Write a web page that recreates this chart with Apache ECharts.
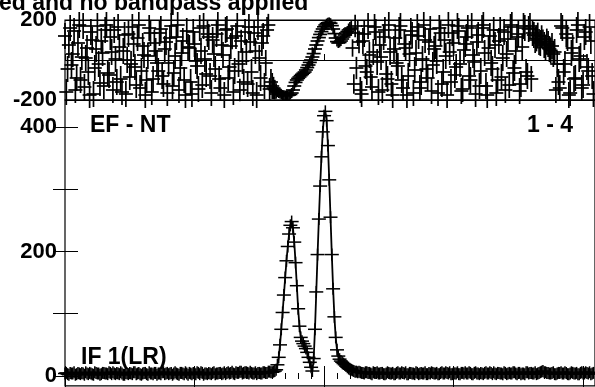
<!DOCTYPE html>
<html><head><meta charset="utf-8">
<script src="https://cdn.jsdelivr.net/npm/echarts@6/dist/echarts.min.js"></script>
<style>html,body{margin:0;padding:0;background:#fff}#c{width:595px;height:387px}</style>
</head><body><div id="c"></div>
<script>
// even channels
const channels = [
0,2,4,6,8,10,12,14,16,18,20,22,24,26,28,30,32,34,36,38,
40,42,44,46,48,50,52,54,56,58,60,62,64,66,68,70,72,74,76,78,
80,82,84,86,88,90,92,94,96,98,100,102,104,106,108,110,112,114,116,118,
120,122,124,126,128,130,132,134,136,138,140,142,144,146,148,150,152,154,156,158,
160,161,162,163,164,165,166,167,168,169,170,171,172,173,174,175,176,177,178,179,
180,181,182,183,184,185,186,187,188,189,190,191,192,193,194,195,196,197,198,199,
200,201,202,203,204,205,206,207,208,209,210,211,212,213,214,215,216,217,218,219,
220,221,222,223,224,225,226,
228,230,232,234,236,238,240,242,244,246,248,250,252,254,256,258,260,262,264,266,
268,270,272,274,276,278,280,282,284,286,288,290,292,294,296,298,300,302,304,306,
308,310,312,314,316,318,320,322,324,326,328,330,332,334,336,338,340,342,344,346,
348,350,352,354,356,358,360,362,364,366,368,370,372,374,376,378,380,382,384,386,
388,390,392,394,396,398,400,402,404,406,408
];
const amplitude = [
4,3,5,4,2,5,3,4,6,3,4,2,5,4,3,5,4,6,3,4,
5,3,4,2,4,5,3,6,4,3,4,5,2,4,3,5,4,3,6,4,
3,5,4,4,2,5,3,4,5,3,4,6,3,5,4,3,4,5,3,4,
5,4,3,6,5,4,6,5,7,5,6,4,5,4,3,5,4,6,5,7,
6,7,8,10,18,30,50,75,102,130,
158,185,208,228,242,248,238,215,182,145,
108,80,62,56,52,48,44,38,30,22,
14,8,28,75,135,195,252,305,352,392,
418,425,410,370,315,255,195,140,95,62,
42,32,27,24,22,20,18,16,14,12,
11,10,9,8,7,7,6,
6,5,6,5,4,6,5,4,5,3,
4,5,4,3,5,4,6,4,3,5,
4,3,5,4,4,6,3,4,5,4,
3,5,4,6,4,3,5,4,3,5,
4,4,6,3,5,4,3,4,5,4,
6,3,4,5,4,3,5,4,4,6,
4,5,3,4,6,4,5,4,3,5,
7,6,5,4,5,3,4,5,4,6,
3,4,5,4,3,5,4,6,4,3,
5
];
const phase = [
120,-45,160,30,-150,85,-100,170,10,-60,
140,-170,55,-20,95,-130,175,-75,40,150,
-110,65,-160,125,0,-85,165,-35,110,-140,
70,-175,20,135,-95,45,-55,155,-120,90,
-15,170,-65,115,-150,35,-100,145,60,-170,
80,-30,160,-125,5,130,-80,100,-45,175,
-140,25,150,-90,70,-160,120,-20,95,-110,
40,165,-60,135,-175,10,85,-130,150,-145,
-130,-140,-148,-155,-160,-165,-168,-172,-175,-176,
-178,-178,-177,-175,-172,-165,-150,-130,-112,-100,
-92,-85,-78,-72,-66,-60,-50,-38,-25,-12,
0,15,32,55,75,95,112,128,142,155,
166,175,182,186,188,184,172,155,132,110,
92,85,88,95,105,115,125,135,142,150,
155,160,60,-120,170,-40,135,
-150,95,-30,170,-85,40,140,-160,15,115,
-70,175,-120,55,-15,150,-100,80,-175,30,
125,-50,165,-140,5,100,-90,155,-25,70,
-165,135,-60,20,175,-110,85,-35,145,-155,
50,115,-80,170,-10,90,-130,160,35,-175,
120,-45,75,-100,150,10,-150,105,165,-65,
45,130,-120,170,-60,155,-95,125,108,90,
118,75,92,55,70,40,-20,-140,160,-20,
110,-165,60,-90,175,20,-125,140,-55,95,
-170
];
// odd channels (outside the line region)
const oddChannels = [
1,3,5,7,9,11,13,15,17,19,21,23,25,27,29,31,33,35,37,39,
41,43,45,47,49,51,53,55,57,59,61,63,65,67,69,71,73,75,77,79,
81,83,85,87,89,91,93,95,97,99,101,103,105,107,109,111,113,115,117,119,
121,123,125,127,129,131,133,135,137,139,141,143,145,147,149,151,153,155,157,159,
227,229,231,233,235,237,239,241,243,245,247,249,251,253,255,257,259,261,263,265,
267,269,271,273,275,277,279,281,283,285,287,289,291,293,295,297,299,301,303,305,
307,309,311,313,315,317,319,321,323,325,327,329,331,333,335,337,339,341,343,345,
347,349,351,353,355,357,359,361,363,365,367,369,371,373,375,377,379,381,383,385,
387,389,391,393,395,397,399,401,403,405,407
];
const amplitudeOdd = [
5,2,4,6,3,4,5,2,4,5,3,6,4,2,5,4,3,5,6,3,
4,6,2,5,3,4,6,3,5,2,5,3,6,4,5,2,4,6,3,5,
4,2,6,3,5,4,6,2,4,5,3,5,6,2,4,5,3,6,4,5,
3,6,5,4,7,3,5,7,4,6,5,7,4,6,5,4,6,5,7,6,
7,5,4,6,5,3,5,6,4,5,
3,6,4,5,3,6,4,5,6,3,
5,4,6,3,5,4,3,5,6,4,
5,3,6,4,5,6,3,4,6,3,
5,6,4,5,3,6,4,5,3,6,
4,5,6,3,5,4,6,3,5,4,
6,3,5,4,3,6,5,4,6,4,
6,8,6,5,4,6,3,5,6,4,
5,3,6,4,5,3,6,4,5,6,
4
];
const phaseOdd = [
-160,75,-25,145,-90,175,15,-135,60,-175,
100,-40,170,-115,35,150,-65,115,-150,5,
165,-95,45,-170,130,-20,80,-125,175,-55,
25,-100,160,-160,85,-15,135,-80,55,-165,
110,-130,20,175,-40,95,-175,65,-110,140,
-5,-145,45,170,-70,115,-165,30,130,-95,
75,-175,155,-35,110,-55,170,-150,-5,140,
-120,90,-165,45,165,-90,120,-15,175,-110,
90,-170,130,-60,25,-135,165,-10,75,-150,
150,-95,40,-175,110,-30,170,-140,60,-80,
145,-165,35,120,-110,175,-45,90,-155,55,
-5,160,-120,100,-175,40,135,-75,170,-20,
-145,80,160,-100,25,-170,125,-55,175,-130,
60,-15,150,-165,95,-85,140,30,-125,175,
-40,115,-155,65,160,
-80,170,135,100,122,85,104,62,80,48,30,-150,
-110,170,-60,130,-175,35,-95,150,5,-140,115,-35,165,-80
];
const ampTickValues = [0, 100, 200, 300, 400];
const ampLabelValues = [0, 200, 400];
const titleText = 'ed and no bandpass applied';
const baselineLabel = 'EF - NT';
const pairLabel = '1 - 4';
const ifLabel = 'IF 1(LR)';

const FONT = '"Liberation Sans", Arial, Helvetica, sans-serif';
const allPoints = channels.map((c, i) => [c, phase[i], amplitude[i]])
  .concat(oddChannels.map((c, i) => [c, phaseOdd[i], amplitudeOdd[i]]))
  .sort((a, b) => a[0] - b[0]);
const ampData = allPoints.map(p => [p[0], p[2]]);
const phaseData = allPoints.map(p => [p[0], p[1], p[2]]);

function crossRender(hw, hhFn, lw) {
  return function (params, api) {
    const p = api.coord([api.value(0), api.value(1)]);
    const hh = hhFn(api);
    const st = { stroke: '#000', lineWidth: lw };
    return {
      type: 'group',
      children: [
        { type: 'line', shape: { x1: p[0] - hw, y1: p[1], x2: p[0] + hw, y2: p[1] }, style: st },
        { type: 'line', shape: { x1: p[0], y1: p[1] - hh, x2: p[0], y2: p[1] + hh }, style: st }
      ]
    };
  };
}

const chart = echarts.init(document.getElementById('c'), null, { renderer: 'canvas' });
const xBase = { type: 'value', min: 0, max: 409.2, interval: 100,
  axisLine: { show: false }, axisLabel: { show: false }, splitLine: { show: false } };
const labelStyle = { fontFamily: FONT, fontWeight: 'bold', fontSize: 22, color: '#000', margin: 8, padding: [5, 0, 0, 0] };
chart.setOption({
  animation: false,
  backgroundColor: '#fff',
  grid: [
    { left: 65, top: 20, width: 532, height: 80, show: true, borderColor: '#000', borderWidth: 1.2, backgroundColor: 'transparent' },
    { left: 65, top: 100, width: 532, height: 287, show: true, borderColor: '#000', borderWidth: 1.2, backgroundColor: 'transparent' }
  ],
  xAxis: [
    Object.assign({}, xBase, { gridIndex: 0, position: 'bottom',
      axisTick: { show: true, inside: true, length: 6, lineStyle: { color: '#000' } } }),
    Object.assign({}, xBase, { gridIndex: 1, position: 'top',
      axisTick: { show: true, inside: true, length: 13, lineStyle: { color: '#000' } },
      minorTick: { show: true, splitNumber: 10, length: 3, lineStyle: { color: '#000' } } }),
    Object.assign({}, xBase, { gridIndex: 1, position: 'bottom',
      axisTick: { show: true, inside: true, length: 10, lineStyle: { color: '#000' } },
      minorTick: { show: true, splitNumber: 10, length: 3, lineStyle: { color: '#000' } } })
  ],
  yAxis: [
    { gridIndex: 0, type: 'value', min: -200, max: 200, interval: 200,
      axisLine: { show: false },
      axisTick: { show: true, inside: true, length: 10, lineStyle: { color: '#000' } },
      splitLine: { show: true, lineStyle: { color: '#000', width: 1 } },
      axisLabel: Object.assign({}, labelStyle, { formatter: v => (v === 0 ? '' : String(v)) }) },
    { gridIndex: 1, type: 'value', min: -16, max: 443.2,
      axisLine: { show: false },
      axisTick: { show: true, inside: true, length: 13, customValues: ampTickValues, lineStyle: { color: '#000' } },
      splitLine: { show: false },
      axisLabel: Object.assign({}, labelStyle, { customValues: ampLabelValues }) },
    { gridIndex: 1, type: 'value', position: 'right', min: -16, max: 443.2,
      axisLine: { show: false },
      axisTick: { show: true, inside: true, length: 12, customValues: ampTickValues, lineStyle: { color: '#000' } },
      splitLine: { show: false },
      axisLabel: { show: false } }
  ],
  series: [
    { type: 'custom', coordinateSystem: 'cartesian2d', xAxisIndex: 0, yAxisIndex: 0,
      data: phaseData, encode: { x: 0, y: 1 },
      renderItem: crossRender(7, api => Math.max(5, Math.min(13, 78 / api.value(2))), 1.7),
      clip: false, z: 3 },
    { type: 'line', xAxisIndex: 1, yAxisIndex: 1, data: ampData, showSymbol: false,
      lineStyle: { color: '#000', width: 1.8 }, z: 3 },
    { type: 'custom', coordinateSystem: 'cartesian2d', xAxisIndex: 1, yAxisIndex: 1,
      data: ampData, renderItem: crossRender(7, () => 6, 1.5), clip: false, z: 3 }
  ],
  graphic: [
    { type: 'text', x: -1, y: 4, style: { text: titleText, font: 'bold 23px ' + FONT, fill: '#000', align: 'left', verticalAlign: 'middle' } },
    { type: 'text', x: 90, y: 126, style: { text: baselineLabel, font: 'bold 23px ' + FONT, fill: '#000', align: 'left', verticalAlign: 'middle' } },
    { type: 'text', x: 573, y: 126, style: { text: pairLabel, font: 'bold 23px ' + FONT, fill: '#000', align: 'right', verticalAlign: 'middle' } },
    { type: 'text', x: 81, y: 358, style: { text: ifLabel, font: 'bold 23px ' + FONT, fill: '#000', align: 'left', verticalAlign: 'middle' } }
  ]
});
</script>
</body></html>
